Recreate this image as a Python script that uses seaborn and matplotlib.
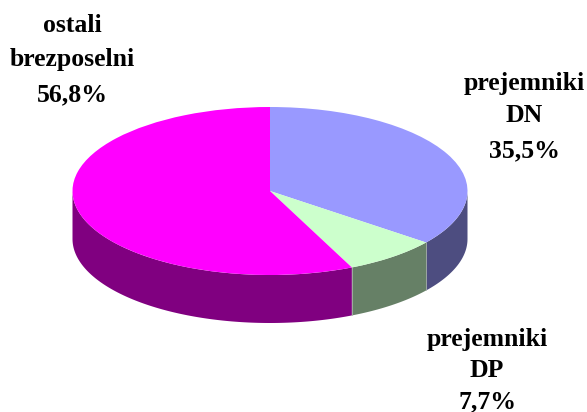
import numpy as np
import matplotlib
matplotlib.use("Agg")
import matplotlib.pyplot as plt
from matplotlib.patches import Polygon
import seaborn as sns

# Data
labels = ["prejemniki DN", "prejemniki DP", "ostali brezposelni"]
values = [35.5, 7.7, 56.8]
label_lines = [["prejemniki", "DN", "35,5%"], ["prejemniki", "DP", "7,7%"], ["ostali", "brezposelni", "56,8%"]]
top_colors = ["#9999FF", "#CCFFCC", "#FF00FF"]
side_colors = ["#4D4D80", "#668066", "#800080"]

W, H = 587, 412
CX, CY, RX, RY, DEPTH = 270, 191, 197.5, 84, 48
label_x = [524.5, 487, 72.5]
label_baselines = [[90, 122, 157], [346, 377, 408], [32, 66, 101]]

sns.set_theme(style="white")
plt.rcParams["font.family"] = ["Liberation Serif", "DejaVu Serif"]

fig = plt.figure(figsize=(W / 100, H / 100), dpi=100, facecolor="white")
ax = fig.add_axes([0, 0, 1, 1])
ax.pie(values, colors=sns.color_palette(top_colors), startangle=90, counterclock=False,
       radius=1, center=(0, 0), wedgeprops={"linewidth": 0, "zorder": 3})
ax.set_aspect("auto")
ax.set_xlim(-CX / RX, (W - CX) / RX)
ax.set_ylim((CY - H) / RY, CY / RY)
ax.axis("off")

# Side wall: clockwise angle from 12 o'clock, visible on the front half only
depth = DEPTH / RY
edges = np.cumsum([0] + values) / sum(values) * 360
for start, stop, col in zip(edges[:-1], edges[1:], side_colors):
    a0, a1 = max(start, 90), min(stop, 270)
    if a1 <= a0:
        continue
    t = np.radians(np.linspace(a0, a1, 120))
    x, y = np.sin(t), np.cos(t)
    pts = np.r_[np.c_[x, y], np.c_[x[::-1], y[::-1] - depth]]
    ax.add_patch(Polygon(pts, closed=True, facecolor=col, edgecolor="none", zorder=2))
    if a0 > 90:
        ax.plot([x[0], x[0]], [y[0], y[0] - depth], color="#A8B4A8", lw=0.6, zorder=2.5)

for lines, xp, ys in zip(label_lines, label_x, label_baselines):
    for line, yp in zip(lines, ys):
        fig.text(xp / W, 1 - yp / H, line, ha="center", va="baseline", fontsize=18.5,
                 fontweight="bold", color="black")

fig.savefig("out.png", dpi=100)
